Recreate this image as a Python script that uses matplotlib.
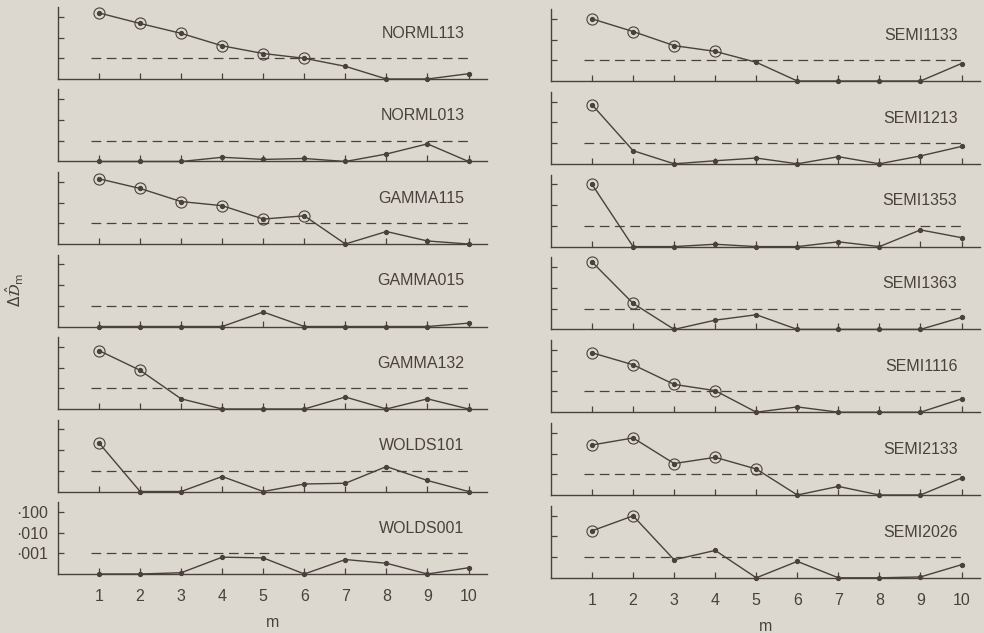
import matplotlib.pyplot as plt
import numpy as np
from matplotlib.ticker import NullLocator

plt.rcParams['font.family'] = ['Liberation Sans', 'DejaVu Sans']
plt.rcParams['lines.scale_dashes'] = False
plt.rcParams['mathtext.fontset'] = 'dejavusans'

INK = '#4a403d'
PAPER = '#ddd8cf'

m = np.arange(1, 11)
threshold = 0.001
floor = 1e-4

left_names = ['NORML113', 'NORML013', 'GAMMA115', 'GAMMA015',
              'GAMMA132', 'WOLDS101', 'WOLDS001']
normL113 = [0.155, 0.048, 0.016, 0.004, 0.0017, 0.001, 0.00041, 1e-4, 1e-4, 0.00018]
normL013 = [1e-4, 1e-4, 1e-4, 0.00016, 0.000126, 0.00014, 1e-4, 0.00023, 0.00071, 1e-4]
gamma115 = [0.141, 0.048, 0.0112, 0.0071, 0.0016, 0.0023, 1e-4, 0.0004, 0.00014, 1e-4]
gamma015 = [1e-4, 1e-4, 1e-4, 1e-4, 0.0005, 1e-4, 1e-4, 1e-4, 1e-4, 0.000145]
gamma132 = [0.066, 0.0074, 0.00031, 1e-4, 1e-4, 1e-4, 0.00038, 1e-4, 0.00031, 1e-4]
wolds101 = [0.022, 1e-4, 1e-4, 0.00053, 1e-4, 0.00023, 0.00025, 0.0016, 0.00034, 1e-4]
wolds001 = [1e-4, 1e-4, 0.000115, 0.00065, 0.0006, 1e-4, 0.0005, 0.00033, 1e-4, 0.0002]
left_values = [normL113, normL013, gamma115, gamma015, gamma132, wolds101, wolds001]
left_circled = [6, 0, 6, 0, 2, 1, 0]

# right column
right_names = ['SEMI1133', 'SEMI1213', 'SEMI1353', 'SEMI1363',
               'SEMI1116', 'SEMI2133', 'SEMI2026']
semi1133 = [0.1, 0.0245, 0.0051, 0.0027, 0.0008, 1e-4, 1e-4, 1e-4, 1e-4, 0.0007]
semi1213 = [0.071, 0.00043, 1e-4, 0.00014, 0.00019, 1e-4, 0.00022, 1e-4, 0.00024, 0.00069]
semi1353 = [0.1, 1e-4, 1e-4, 0.00013, 1e-4, 1e-4, 0.00017, 1e-4, 0.00064, 0.00027]
semi1363 = [0.18, 0.0018, 1e-4, 0.00028, 0.00051, 1e-4, 1e-4, 1e-4, 1e-4, 0.00038]
semi1116 = [0.074, 0.0195, 0.0022, 0.0011, 1e-4, 0.00018, 1e-4, 1e-4, 1e-4, 0.00044]
semi2133 = [0.026, 0.057, 0.0033, 0.0066, 0.0018, 1e-4, 0.00026, 1e-4, 1e-4, 0.00066]
semi2026 = [0.0186, 0.098, 0.00074, 0.0021, 1e-4, 0.00062, 1e-4, 1e-4, 0.00011, 0.00043]
right_values = [semi1133, semi1213, semi1353, semi1363, semi1116, semi2133, semi2026]
right_circled = [4, 1, 1, 2, 4, 5, 2]

ytick_vals = [1e-3, 1e-2, 1e-1]
ytick_labels = ['·001', '·010', '·100']

W, H = 984, 633
fig = plt.figure(figsize=(W / 100, H / 100), dpi=100, facecolor=PAPER)


def draw_panel(ax, vals, name, n_circ, bottom_row, show_ylabels):
    ax.set_facecolor(PAPER)
    ax.set_yscale('log')
    ax.set_ylim(floor, 0.3)
    ax.set_xlim(0, 10.45)
    for s in ['top', 'right']:
        ax.spines[s].set_visible(False)
    for s in ['left', 'bottom']:
        ax.spines[s].set_color(INK)
        ax.spines[s].set_linewidth(1.0)

    ax.hlines(threshold, 0.8, 10, colors=INK, linewidth=0.9,
              linestyles=(0, (7, 4)))
    ax.plot(m, vals, '-', color=INK, linewidth=1.0, marker='o',
            markersize=2.8, clip_on=False, zorder=3)
    if n_circ:
        ax.plot(m[:n_circ], vals[:n_circ], 'o', mfc='none', mec=INK,
                markersize=8, mew=0.8, clip_on=False, zorder=4)

    ax.text(9.9, 0.016, name, ha='right', va='center', fontsize=11.5,
            color=INK)

    ax.set_xticks(m)
    ax.set_yticks(ytick_vals)
    ax.yaxis.set_minor_locator(NullLocator())
    ax.tick_params(axis='both', direction='in', length=4, width=0.9,
                   colors=INK, labelsize=11.5)
    ax.tick_params(axis='x', pad=11)
    ax.tick_params(axis='y', pad=7)
    if bottom_row:
        ax.set_xticklabels([str(v) for v in m])
        ax.set_xlabel('m', fontsize=11.5, color=INK, labelpad=8)
    else:
        ax.set_xticklabels([])
    if show_ylabels:
        ax.set_yticklabels(ytick_labels, fontsize=11.5)
    else:
        ax.set_yticklabels([])


for i in range(7):
    # left column
    bot = 79 + i * 82.5
    ax = fig.add_axes([58 / W, 1 - bot / H, 429 / W, 72 / H])
    draw_panel(ax, left_values[i], left_names[i], left_circled[i],
               i == 6, i == 6)
    # right column
    bot = 81 + i * 82.8
    ax = fig.add_axes([551 / W, 1 - bot / H, 429 / W, 72 / H])
    draw_panel(ax, right_values[i], right_names[i], right_circled[i],
               i == 6, False)

fig.text(15 / W, 1 - 290 / H, r'$\Delta\hat{\mathcal{D}}_{\mathrm{m}}$',
         rotation=90, ha='center', va='center', fontsize=11, color=INK)

fig.savefig('out.png', dpi=100, facecolor=PAPER)
